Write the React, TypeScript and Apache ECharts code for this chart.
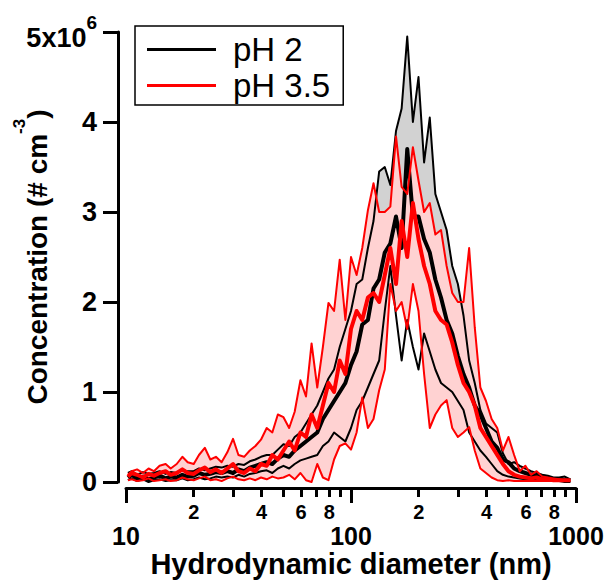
import React, { useEffect, useRef } from "react";
import * as echarts from "echarts";

// Hydrodynamic diameter (nm)
const diameters = [
  10.2, 10.6, 11.2, 11.9, 12.6, 13.3, 14.1, 15.0, 15.8, 16.8,
  17.8, 18.8, 20.0, 21.1, 22.4, 23.7, 25.1, 26.6, 28.2, 29.9,
  31.6, 33.5, 35.5, 37.6, 39.8, 42.2, 44.7, 47.3, 50.1, 53.1,
  56.2, 59.6, 63.1, 66.8, 70.8, 75.0, 79.4, 84.1, 89.1, 94.4,
  100, 105.9, 112.2, 118.9, 125.9, 133.4, 141.3, 149.6, 158.5, 167.9,
  177.8, 188.4, 199.5, 211.3, 223.9, 237.1, 251.2, 266.1, 281.8, 298.5,
  316.2, 335.0, 354.8, 375.8, 398.1, 421.7, 446.7, 473.2, 501.2, 530.9,
  562.3, 595.7, 631.0, 668.3, 707.9, 749.9, 794.3, 841.4, 891.3, 944.1,
];

// Concentrations in units of 10^6 # cm^-3
const ph2Mean = [
  0.05, 0.08, 0.04, 0.06, 0.03, 0.05, 0.07, 0.04, 0.06, 0.05,
  0.08, 0.06, 0.07, 0.1, 0.08, 0.09, 0.11, 0.1, 0.12, 0.1,
  0.14, 0.12, 0.16, 0.18, 0.2, 0.22, 0.2, 0.26, 0.3, 0.28,
  0.35, 0.4, 0.45, 0.5, 0.55, 0.7, 0.8, 0.9, 1.0, 1.1,
  1.3, 1.45, 1.75, 1.8, 2.15, 2.25, 2.55, 2.65, 2.95, 2.6,
  3.7, 2.95, 2.95, 2.7, 2.55, 2.25, 2.05, 1.8, 1.65, 1.4,
  1.2, 1.05, 0.85, 0.75, 0.6, 0.45, 0.38, 0.25, 0.22, 0.15,
  0.12, 0.1, 0.08, 0.07, 0.05, 0.04, 0.03, 0.03, 0.02, 0.02,
];
const ph2Upper = [
  0.1, 0.12, 0.08, 0.11, 0.09, 0.1, 0.12, 0.09, 0.11, 0.1,
  0.13, 0.12, 0.12, 0.15, 0.13, 0.15, 0.17, 0.16, 0.18, 0.17,
  0.2, 0.19, 0.23, 0.25, 0.28, 0.3, 0.3, 0.36, 0.42, 0.4,
  0.5, 0.55, 0.65, 0.75, 0.85, 1.0, 1.15, 1.25, 1.5, 1.7,
  1.9, 2.2, 2.25, 2.6, 2.9, 3.45, 3.5, 3.3, 3.9, 4.15,
  4.95, 4.0, 4.5, 3.55, 4.05, 3.2, 3.0, 2.8, 2.4, 2.2,
  1.85, 1.35, 1.1, 0.8, 0.65, 0.6, 0.55, 0.32, 0.2, 0.22,
  0.18, 0.15, 0.12, 0.1, 0.08, 0.07, 0.05, 0.05, 0.06, 0.03,
];
const ph2Lower = [
  0.02, 0.04, 0.01, 0.03, 0.0, 0.02, 0.03, 0.01, 0.02, 0.02,
  0.04, 0.02, 0.03, 0.05, 0.03, 0.04, 0.06, 0.05, 0.06, 0.05,
  0.08, 0.06, 0.09, 0.1, 0.12, 0.13, 0.1, 0.15, 0.18, 0.15,
  0.2, 0.24, 0.26, 0.28, 0.3, 0.4, 0.45, 0.55, 0.5, 0.45,
  0.6, 0.8, 0.9, 1.05, 1.2, 1.35, 1.9, 2.4, 1.85, 1.35,
  1.8, 1.5, 1.25, 1.65, 1.45, 1.25, 1.1, 1.05, 1.0, 0.9,
  0.8, 0.55, 0.45, 0.35, 0.28, 0.2, 0.12, 0.08, 0.06, 0.05,
  0.04, 0.03, 0.03, 0.02, 0.02, 0.01, 0.01, 0.01, 0.0, 0.0,
];
const ph35Mean = [
  0.06, 0.1, 0.08, 0.05, 0.09, 0.07, 0.1, 0.12, 0.08, 0.1,
  0.14, 0.1, 0.09, 0.13, 0.16, 0.11, 0.14, 0.1, 0.15, 0.2,
  0.12, 0.1, 0.15, 0.12, 0.2, 0.18, 0.3, 0.25, 0.35, 0.45,
  0.35, 0.55, 0.5, 0.75, 0.6, 0.85, 1.1, 1.0, 1.35, 1.2,
  1.7, 1.9, 1.8, 2.05, 2.1, 2.0, 2.3, 2.6, 2.2, 2.9,
  2.5, 3.1, 2.7, 2.4, 2.2, 1.9, 1.8, 1.75, 1.55, 1.3,
  1.1, 1.0, 0.85, 0.6, 0.5, 0.4, 0.3, 0.2, 0.12, 0.08,
  0.06, 0.05, 0.04, 0.05, 0.03, 0.03, 0.02, 0.02, 0.02, 0.02,
];
const ph35Upper = [
  0.08, 0.12, 0.14, 0.1, 0.15, 0.12, 0.18, 0.2, 0.15, 0.2,
  0.28, 0.22, 0.2, 0.3, 0.38, 0.25, 0.28, 0.22, 0.33, 0.48,
  0.3, 0.28, 0.35, 0.4, 0.47, 0.6, 0.55, 0.75, 0.72, 0.6,
  0.78, 1.13, 0.95, 1.54, 1.05, 1.5, 1.99, 1.9, 2.47, 1.8,
  2.5, 2.3, 2.6, 3.02, 3.32, 3.0, 3.0, 3.06, 3.84, 3.28,
  3.2, 3.72, 3.35, 3.0, 3.1, 2.75, 2.8, 2.4, 2.1, 2.0,
  2.0, 2.6, 1.72, 1.05, 0.9, 0.7, 0.6, 0.35, 0.5, 0.3,
  0.12, 0.18, 0.08, 0.12, 0.06, 0.05, 0.04, 0.03, 0.02, 0.02,
];
const ph35Lower = [
  0.02, 0.03, 0.01, 0.02, 0.04, 0.01, 0.02, 0.03, 0.01, 0.02,
  0.05, 0.03, 0.02, 0.04, 0.06, 0.02, 0.03, 0.01, 0.04, 0.06,
  0.03, 0.02, 0.04, 0.02, 0.05, 0.03, 0.06, 0.04, 0.05, 0.08,
  0.03, 0.1, 0.02, 0.0, 0.2, 0.05, 0.02, 0.25, 0.4, 0.43,
  0.36, 0.55, 0.94, 0.6, 0.7, 1.02, 1.25, 2.2, 1.9, 2.0,
  1.7, 2.2, 1.9, 1.2, 0.6, 0.75, 0.85, 0.91, 0.6, 0.5,
  0.55, 0.61, 0.35, 0.15, 0.1, 0.05, 0.02, 0.01, 0.02, 0.01,
  0.01, 0.01, 0.01, 0.01, 0.01, 0.01, 0.01, 0.01, 0.01, 0.01,
];

const seriesNames = ["pH 2", "pH 3.5"];
const xMajorTicks = [10, 100, 1000];
const xMinorTicks = [20, 30, 40, 50, 60, 70, 80, 90, 200, 300, 400, 500, 600, 700, 800, 900];
const xMinorLabels = [20, 40, 60, 80, 200, 400, 600, 800];
const yMax = 5e6;
const yStep = 1e6;

const FONT = "Liberation Sans";
const M = 1e6;

const pairs = (ys: number[]) => diameters.map((d, i) => [d, ys[i] * M]);

// filled area from the axis up to a curve (used to build the shaded bands)
function fill(name: string, ys: number[], color: string) {
  return {
    name,
    type: "line",
    data: pairs(ys),
    symbol: "none",
    silent: true,
    lineStyle: { width: 0, opacity: 0 },
    areaStyle: { color, opacity: 1 },
  };
}

function line(name: string, ys: number[], color: string, width: number) {
  return {
    name,
    type: "line",
    data: pairs(ys),
    symbol: "none",
    silent: true,
    lineStyle: { color, width, join: "round" },
    itemStyle: { color },
  };
}

export default function App() {
  const ref = useRef<HTMLDivElement>(null);

  useEffect(() => {
    if (!ref.current) return;
    const chart = echarts.init(ref.current, null, { renderer: "svg" });

    const xBase = {
      type: "log",
      logBase: 10,
      min: 10,
      max: 1000,
      position: "bottom",
      offset: 6,
      splitLine: { show: false },
      minorTick: { show: false },
      minorSplitLine: { show: false },
    };

    const option = {
      animation: false,
      backgroundColor: "#fff",
      textStyle: { fontFamily: FONT },
      grid: {
        left: 126,
        right: 36,
        top: 32,
        bottom: 98,
        containLabel: false,
        outerBoundsMode: "none",
      },
      legend: {
        data: seriesNames,
        orient: "vertical",
        left: 135,
        top: 26,
        icon: "rect",
        itemWidth: 69,
        itemHeight: 3,
        itemGap: 3,
        borderColor: "#000",
        borderWidth: 1.5,
        padding: [7, 13, 3, 12],
        selectedMode: false,
        formatter: (n: string) => "{t|" + n + "}",
        textStyle: {
          rich: {
            t: {
              fontSize: 33,
              fontFamily: FONT,
              color: "#000",
              lineHeight: 40,
              padding: [0, 0, 0, 12],
            },
          },
        },
      },
      xAxis: [
        {
          ...xBase,
          axisLine: { show: true, onZero: false, lineStyle: { color: "#000", width: 3 } },
          axisTick: {
            show: true,
            customValues: xMajorTicks,
            length: 15,
            lineStyle: { color: "#000", width: 3 },
          },
          axisLabel: {
            customValues: xMajorTicks,
            margin: 35,
            fontSize: 25,
            fontWeight: "bold",
            fontFamily: FONT,
            color: "#000",
            formatter: (v: number) => String(Math.round(v)),
          },
          name: "Hydrodynamic diameter (nm)",
          nameLocation: "middle",
          nameGap: 61,
          nameMoveOverlap: false,
          nameTextStyle: { fontSize: 29, fontWeight: "bold", fontFamily: FONT, color: "#000" },
        },
        {
          ...xBase,
          axisLine: { show: false, onZero: false },
          axisTick: {
            show: true,
            customValues: xMinorTicks,
            length: 9,
            lineStyle: { color: "#000", width: 3 },
          },
          axisLabel: {
            customValues: xMinorLabels,
            margin: 14,
            fontSize: 20,
            fontWeight: "bold",
            fontFamily: FONT,
            color: "#000",
            formatter: (v: number) =>
              String(Math.round(v / Math.pow(10, Math.floor(Math.log10(v) + 1e-9)))),
          },
        },
      ],
      yAxis: {
        type: "value",
        min: 0,
        max: yMax,
        interval: yStep,
        offset: 8,
        splitLine: { show: false },
        axisLine: { show: true, lineStyle: { color: "#000", width: 3 } },
        axisTick: { show: true, length: 15, lineStyle: { color: "#000", width: 3 } },
        axisLabel: {
          margin: 21,
          color: "#000",
          formatter: (v: number) =>
            v === yMax ? "{t|5x10}{p|6}" : "{n|" + Math.round(v / M) + "}",
          rich: {
            n: { fontSize: 27, fontWeight: "bold", fontFamily: FONT, color: "#000" },
            t: {
              fontSize: 27,
              fontWeight: "bold",
              fontFamily: FONT,
              color: "#000",
              padding: [12, 0, 0, 0],
              verticalAlign: "bottom",
            },
            p: {
              fontSize: 19,
              fontWeight: "bold",
              fontFamily: FONT,
              color: "#000",
              verticalAlign: "top",
            },
          },
        },
        name: "{a|Concentration (# cm}{s|-3}{a|)}",
        nameLocation: "middle",
        nameRotate: 90,
        nameGap: 67,
        nameMoveOverlap: false,
        nameTextStyle: {
          rich: {
            a: {
              fontSize: 28,
              fontWeight: "bold",
              fontFamily: FONT,
              color: "#000",
              padding: [12, 0, 0, 0],
              verticalAlign: "bottom",
            },
            s: {
              fontSize: 17,
              fontWeight: "bold",
              fontFamily: FONT,
              color: "#000",
              verticalAlign: "top",
            },
          },
        },
      },
      series: [
        fill("pH 2 band", ph2Upper, "#d2d2d2"),
        fill("pH 2 band base", ph2Lower, "#ffffff"),
        fill("pH 3.5 band", ph35Upper, "#ffd2d2"),
        fill("pH 3.5 band base", ph35Lower, "#ffffff"),
        line("pH 2 upper", ph2Upper, "#000", 2),
        line("pH 2 lower", ph2Lower, "#000", 2),
        line("pH 2", ph2Mean, "#000", 4),
        line("pH 3.5 upper", ph35Upper, "#ff0000", 2),
        line("pH 3.5 lower", ph35Lower, "#ff0000", 2),
        line("pH 3.5", ph35Mean, "#ff0000", 4),
      ],
    };

    chart.setOption(option as any);
    return () => chart.dispose();
  }, []);

  return (
    <div
      ref={ref}
      style={{ position: "absolute", left: 0, top: 0, width: 612, height: 580 }}
    />
  );
}
